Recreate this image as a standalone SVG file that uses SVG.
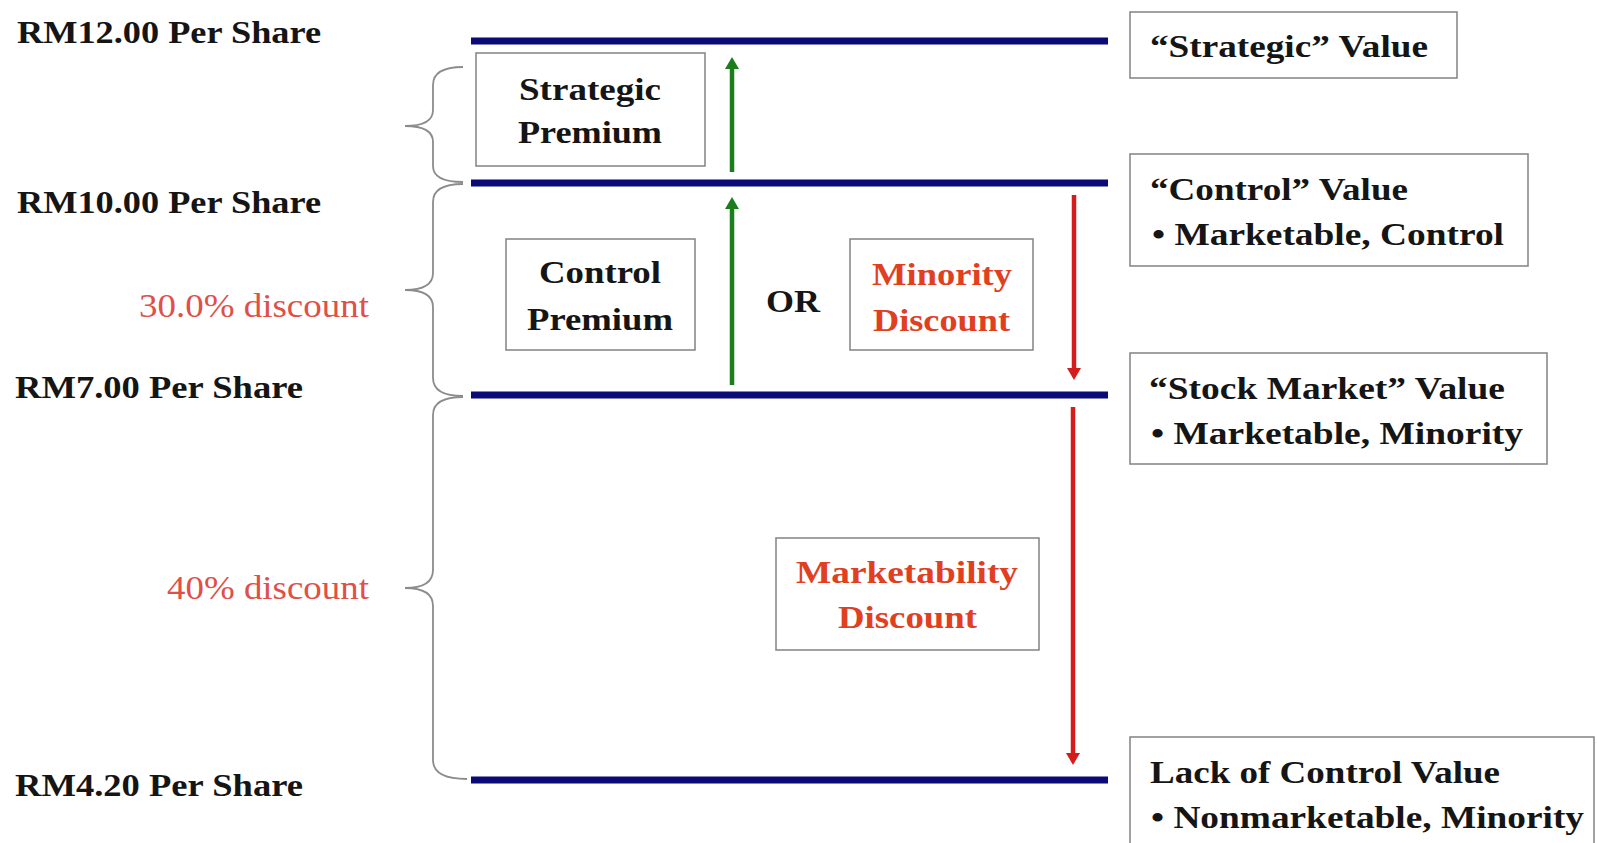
<svg xmlns="http://www.w3.org/2000/svg" width="1597" height="843" viewBox="0 0 1597 843">
  <style>
    .lbl { font-family: "Liberation Serif", "Times New Roman", serif; font-weight: bold; font-size: 32px; fill: #151515; }
    .red { font-family: "Liberation Serif", "Times New Roman", serif; font-weight: bold; font-size: 32px; fill: #e0401f; }
    .disc { font-family: "Liberation Serif", "Times New Roman", serif; font-size: 33px; fill: #de5048; }
    .box { fill: #ffffff; stroke: #8a8a8a; stroke-width: 1.6; }
    .level { stroke: #0b0b78; stroke-width: 7; }
    .brace { fill: none; stroke: #8c8c8c; stroke-width: 1.8; }
    .up { stroke: #1b7d1b; stroke-width: 4.5; fill: none; }
    .down { stroke: #d41c1c; stroke-width: 4.5; fill: none; }
  </style>
  <defs>
    <marker id="headGreen" viewBox="0 0 12 14" refX="0" refY="7" markerWidth="12" markerHeight="14" markerUnits="userSpaceOnUse" orient="auto">
      <path d="M0,0 L12,7 L0,14 z" fill="#1b7d1b"/>
    </marker>
    <marker id="headRed" viewBox="0 0 12 14" refX="0" refY="7" markerWidth="12" markerHeight="14" markerUnits="userSpaceOnUse" orient="auto">
      <path d="M0,0 L12,7 L0,14 z" fill="#d41c1c"/>
    </marker>
  </defs>
  <rect width="1597" height="843" fill="#ffffff"/>

  <!-- price levels -->
  <g id="levels">
    <line class="level" x1="471" y1="41" x2="1108" y2="41"/>
    <line class="level" x1="471" y1="183" x2="1108" y2="183"/>
    <line class="level" x1="471" y1="395" x2="1108" y2="395"/>
    <line class="level" x1="471" y1="780" x2="1108" y2="780"/>
  </g>

  <!-- price labels -->
  <g id="price-labels">
    <text class="lbl" x="17" y="43" textLength="304" lengthAdjust="spacingAndGlyphs">RM12.00 Per Share</text>
    <text class="lbl" x="17" y="213" textLength="304" lengthAdjust="spacingAndGlyphs">RM10.00 Per Share</text>
    <text class="lbl" x="15" y="398" textLength="288" lengthAdjust="spacingAndGlyphs">RM7.00 Per Share</text>
    <text class="lbl" x="15" y="796" textLength="288" lengthAdjust="spacingAndGlyphs">RM4.20 Per Share</text>
  </g>

  <!-- braces and discount labels -->
  <g id="braces">
    <path class="brace" d="M463,67 Q433,67 433,85 L433,110 Q433,126 405,126 Q433,126 433,142 L433,166 Q433,182 463,182"/>
    <path class="brace" d="M463,184 Q433,184 433,202 L433,273 Q433,290 405,290 Q433,290 433,307 L433,378 Q433,396 463,396"/>
    <path class="brace" d="M463,397 Q433,397 433,415 L433,570 Q433,588 405,588 Q433,588 433,606 L433,760 Q433,779 467,779"/>
    <text class="disc" x="139" y="317" textLength="230" lengthAdjust="spacingAndGlyphs">30.0% discount</text>
    <text class="disc" x="167" y="599" textLength="202" lengthAdjust="spacingAndGlyphs">40% discount</text>
  </g>

  <!-- premium / discount boxes -->
  <g id="strategic-premium">
    <rect class="box" x="476" y="53" width="229" height="113"/>
    <text class="lbl" x="519" y="100" textLength="142" lengthAdjust="spacingAndGlyphs">Strategic</text>
    <text class="lbl" x="518" y="143" textLength="144" lengthAdjust="spacingAndGlyphs">Premium</text>
  </g>
  <g id="control-premium">
    <rect class="box" x="506" y="239" width="189" height="111"/>
    <text class="lbl" x="539" y="283" textLength="122" lengthAdjust="spacingAndGlyphs">Control</text>
    <text class="lbl" x="527" y="330" textLength="146" lengthAdjust="spacingAndGlyphs">Premium</text>
  </g>
  <g id="or-label">
    <text class="lbl" x="766" y="312" textLength="54" lengthAdjust="spacingAndGlyphs">OR</text>
  </g>
  <g id="minority-discount">
    <rect class="box" x="850" y="239" width="183" height="111"/>
    <text class="red" x="872" y="285" textLength="140" lengthAdjust="spacingAndGlyphs">Minority</text>
    <text class="red" x="873" y="331" textLength="137" lengthAdjust="spacingAndGlyphs">Discount</text>
  </g>
  <g id="marketability-discount">
    <rect class="box" x="776" y="538" width="263" height="112"/>
    <text class="red" x="796" y="583" textLength="222" lengthAdjust="spacingAndGlyphs">Marketability</text>
    <text class="red" x="838" y="628" textLength="139" lengthAdjust="spacingAndGlyphs">Discount</text>
  </g>

  <!-- value descriptions -->
  <g id="strategic-value">
    <rect class="box" x="1130" y="12" width="327" height="66"/>
    <text class="lbl" x="1150" y="57" textLength="278" lengthAdjust="spacingAndGlyphs">“Strategic” Value</text>
  </g>
  <g id="control-value">
    <rect class="box" x="1130" y="154" width="398" height="112"/>
    <text class="lbl" x="1150" y="200" textLength="258" lengthAdjust="spacingAndGlyphs">“Control” Value</text>
    <text class="lbl" x="1152" y="245" textLength="352" lengthAdjust="spacingAndGlyphs">• Marketable, Control</text>
  </g>
  <g id="stock-market-value">
    <rect class="box" x="1130" y="353" width="417" height="111"/>
    <text class="lbl" x="1149" y="399" textLength="356" lengthAdjust="spacingAndGlyphs">“Stock Market” Value</text>
    <text class="lbl" x="1151" y="444" textLength="372" lengthAdjust="spacingAndGlyphs">• Marketable, Minority</text>
  </g>
  <g id="lack-of-control-value">
    <rect class="box" x="1130" y="737" width="464" height="120"/>
    <text class="lbl" x="1150" y="783" textLength="350" lengthAdjust="spacingAndGlyphs">Lack of Control Value</text>
    <text class="lbl" x="1151" y="828" textLength="433" lengthAdjust="spacingAndGlyphs">• Nonmarketable, Minority</text>
  </g>

  <!-- movement arrows -->
  <g id="connectors">
    <line class="up" x1="732" y1="172" x2="732" y2="69" marker-end="url(#headGreen)"/>
    <line class="up" x1="732" y1="385" x2="732" y2="209" marker-end="url(#headGreen)"/>
    <line class="down" x1="1074" y1="195" x2="1074" y2="368" marker-end="url(#headRed)"/>
    <line class="down" x1="1073" y1="407" x2="1073" y2="753" marker-end="url(#headRed)"/>
  </g>
</svg>
